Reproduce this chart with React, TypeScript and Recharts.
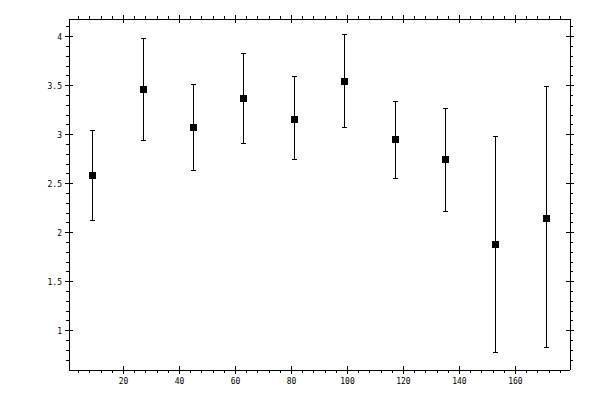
import React from "react";
import { ScatterChart, Scatter, XAxis, YAxis, ErrorBar } from "recharts";

// Data
const xValues = [9, 27, 45, 63, 81, 99, 117, 135, 153, 171];
const means = [2.58, 3.46, 3.07, 3.37, 3.16, 3.54, 2.95, 2.745, 1.88, 2.15];
const lowers = [2.125, 2.94, 2.633, 2.908, 2.745, 3.071, 2.551, 2.214, 0.776, 0.827];
const uppers = [3.047, 3.98, 3.51, 3.827, 3.592, 4.02, 3.337, 3.265, 2.98, 3.49];

const xMajorTicks = [20, 40, 60, 80, 100, 120, 140, 160];
const yMajorTicks = [1, 1.5, 2, 2.5, 3, 3.5, 4];

const xMinorTicks: number[] = [];
for (let i = 1; i <= 44; i++) {
  const v = i * 4;
  if (v % 20 !== 0) xMinorTicks.push(v);
}
const yMinorTicks: number[] = [];
for (let i = 7; i <= 41; i++) {
  if (i % 5 !== 0) yMinorTicks.push(i / 10);
}

const xTicks = [...xMinorTicks, ...xMajorTicks].sort((a, b) => a - b);
const yTicks = [...yMinorTicks, ...yMajorTicks].sort((a, b) => a - b);

const data = xValues.map((x, i) => ({
  x,
  y: means[i],
  err: [means[i] - lowers[i], uppers[i] - means[i]],
}));

const FONT = "DejaVu Sans Mono";

const isMajor = (v: number, majors: number[]) =>
  majors.some((m) => Math.abs(m - v) < 1e-9);

const makeTick =
  (side: "bottom" | "top" | "left" | "right", majors: number[], labels: boolean) =>
  (props: any) => {
    const { x, y, payload } = props;
    const v = payload.value;
    const major = isMajor(v, majors);
    let line;
    if (side === "bottom" || side === "top") {
      const y1 = major ? y - 4 : side === "bottom" ? y : y - 3;
      const y2 = major ? y + 4 : side === "bottom" ? y + 3 : y;
      line = <line x1={x} x2={x} y1={y1} y2={y2} stroke="#000" shapeRendering="crispEdges" />;
    } else {
      const x1 = major ? x - 4 : side === "left" ? x - 3 : x;
      const x2 = major ? x + 4 : side === "left" ? x : x + 3;
      line = <line x1={x1} x2={x2} y1={y} y2={y} stroke="#000" shapeRendering="crispEdges" />;
    }
    let label = null;
    if (labels && major) {
      if (side === "bottom") {
        label = (
          <text x={x} y={y + 14} textAnchor="middle" fontFamily={FONT} fontSize={8} fill="#000">
            {String(v)}
          </text>
        );
      } else if (side === "left") {
        label = (
          <text x={x - 7} y={y + 3} textAnchor="end" fontFamily={FONT} fontSize={8} fill="#000">
            {String(v)}
          </text>
        );
      }
    }
    return (
      <g>
        {line}
        {label}
      </g>
    );
  };

const SquareShape = (props: any) => {
  const { cx, cy } = props;
  if (cx == null || cy == null) return <g />;
  return <rect x={cx - 3.5} y={cy - 3.5} width={7} height={7} fill="#000" shapeRendering="crispEdges" />;
};

const EmptyShape = () => <g />;

export default function App() {
  return (
    <div style={{ position: "absolute", left: 0, top: 0, width: 600, height: 400, background: "#fff" }}>
      <ScatterChart width={600} height={400} margin={{ top: 14, right: 25, bottom: 0, left: 0 }}>
        <XAxis
          xAxisId="bottom"
          dataKey="x"
          type="number"
          orientation="bottom"
          domain={[0.5, 179.5]}
          ticks={xTicks}
          interval={0}
          height={30}
          tickSize={0}
          tickMargin={0}
          tickLine={false}
          axisLine={{ stroke: "#000", shapeRendering: "crispEdges" }}
          tick={makeTick("bottom", xMajorTicks, true)}
          allowDataOverflow
        />
        <XAxis
          xAxisId="top"
          dataKey="x"
          type="number"
          orientation="top"
          domain={[0.5, 179.5]}
          ticks={xTicks}
          interval={0}
          height={5}
          tickSize={0}
          tickMargin={0}
          tickLine={false}
          axisLine={{ stroke: "#000", shapeRendering: "crispEdges" }}
          tick={makeTick("top", xMajorTicks, false)}
          allowDataOverflow
        />
        <YAxis
          yAxisId="left"
          dataKey="y"
          type="number"
          orientation="left"
          domain={[0.6, 4.18]}
          ticks={yTicks}
          interval={0}
          width={69}
          tickSize={0}
          tickMargin={0}
          tickLine={false}
          axisLine={{ stroke: "#000", shapeRendering: "crispEdges" }}
          tick={makeTick("left", yMajorTicks, true)}
          allowDataOverflow
        />
        <YAxis
          yAxisId="right"
          dataKey="y"
          type="number"
          orientation="right"
          domain={[0.6, 4.18]}
          ticks={yTicks}
          interval={0}
          width={5}
          tickSize={0}
          tickMargin={0}
          tickLine={false}
          axisLine={{ stroke: "#000", shapeRendering: "crispEdges" }}
          tick={makeTick("right", yMajorTicks, false)}
          allowDataOverflow
        />
        <Scatter
          data={data}
          xAxisId="bottom"
          yAxisId="left"
          shape={SquareShape}
          isAnimationActive={false}
        >
          <ErrorBar
            dataKey="err"
            direction="y"
            width={2.5}
            stroke="#000"
            strokeWidth={1}
            shapeRendering="crispEdges"
            isAnimationActive={false}
          />
        </Scatter>
        <Scatter
          data={data}
          xAxisId="top"
          yAxisId="right"
          shape={EmptyShape}
          isAnimationActive={false}
        />
      </ScatterChart>
    </div>
  );
}
